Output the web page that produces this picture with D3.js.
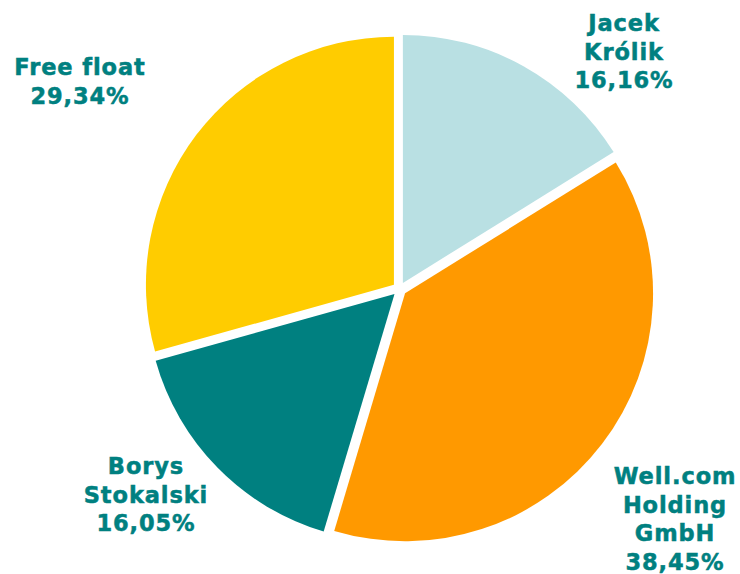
<!DOCTYPE html>
<html>
<head>
<meta charset="utf-8">
<script src="https://cdn.jsdelivr.net/npm/d3@7"></script>
<style>
  body { margin: 0; background: #fff; }
  text { font-family: "DejaVu Sans", Verdana, sans-serif; font-weight: bold; }
</style>
</head>
<body>
<svg id="chart" width="740" height="574"></svg>
<script>
// shareholders, clockwise from 12 o'clock
const names = [["Jacek", "Królik"], ["Well.com", "Holding", "GmbH"], ["Borys", "Stokalski"], ["Free float"]];
const shares = [16.16, 38.45, 16.05, 29.34];
const shareLabels = ["16,16%", "38,45%", "16,05%", "29,34%"];
const colors = ["#b9e0e3", "#ff9900", "#008080", "#ffcc00"];

// where each label block sits (centre x, first baseline y)
const labelPos = [[624, 31], [675, 484], [146, 474], [80, 75]];

const width = 740, height = 574
const cx = 399.5, cy = 289, radius = 248, explode = 7
const lineH = 28.6

const svg = d3.select("#chart")

const pie = d3.pie().sort(null).value(d => d)
const arc = d3.arc().innerRadius(0).outerRadius(radius)

const arcs = pie(shares)

const g = svg.append("g").attr("transform", `translate(${cx},${cy})`)

g.selectAll("path.slice")
    .data(arcs)
    .enter()
    .append("path")
    .attr("class", "slice")
    .attr("fill", (d, i) => colors[i])
    .attr("transform", d => {
        const mid = (d.startAngle + d.endAngle) / 2
        return `translate(${Math.sin(mid) * explode},${-Math.cos(mid) * explode})`
    })
    .attr("d", arc)

// labels
const labels = svg.selectAll("text.lbl")
    .data(arcs)
    .enter()
    .append("text")
    .attr("class", "lbl")
    .attr("text-anchor", "middle")
    .attr("fill", "#008080")
    .attr("stroke", "#008080")
    .attr("stroke-width", 0.5)
    .attr("letter-spacing", "0.9px")
    .attr("font-size", "22.5px")

labels.each(function (d, i) {
    const lines = names[i].concat([shareLabels[i]])
    const [x, y] = labelPos[i]
    d3.select(this).selectAll("tspan")
        .data(lines)
        .enter()
        .append("tspan")
        .attr("x", x)
        .attr("y", (t, j) => y + j * lineH)
        .text(t => t)
})
</script>
</body>
</html>
